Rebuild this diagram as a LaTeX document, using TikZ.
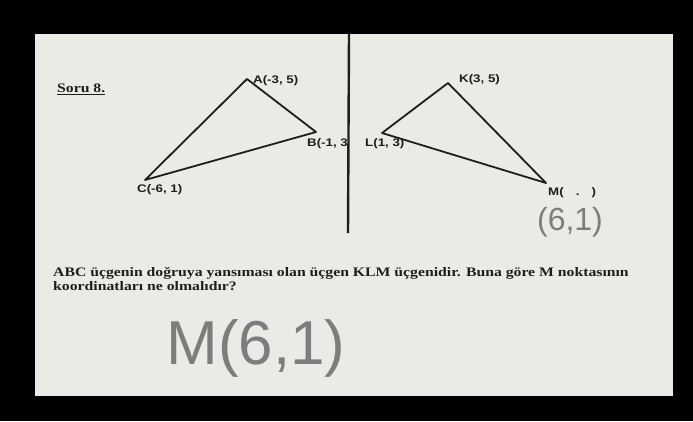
\documentclass[tikz,border=0pt]{standalone}
\usepackage{fontspec}
\setmainfont{Liberation Serif}
\newfontfamily\labelfont{Liberation Sans}
\usetikzlibrary{positioning}
\definecolor{paper}{RGB}{234,234,230}
\definecolor{ink}{RGB}{30,30,30}
\definecolor{pencil}{RGB}{125,125,125}
\newcommand{\wide}[1]{\scalebox{1.21}[1]{#1}}

\begin{document}
\begin{tikzpicture}[x=1pt, y=-1pt, every node/.style={inner sep=0pt},
  pt/.style={font=\labelfont\bfseries\fontsize{11}{11}\selectfont, text=ink},
  edge/.style={draw=ink, line width=1.8pt, line join=round},
  hand/.style={font=\labelfont, text=pencil}]
\useasboundingbox (0,0) rectangle (693,421);
\fill[black] (0,0) rectangle (693,421);
\fill[paper] (35,34) rectangle (673,396);

% header
\node[anchor=west, font=\bfseries\fontsize{13}{13}\selectfont, text=ink] (soru) at (57,89) {\wide{\underline{Soru 8.}}};

% ABC
\coordinate (A) at (247,79);
\coordinate (B) at (316,132);
\coordinate (C) at (145,180);
\draw[edge] (A) -- (B) -- (C) -- cycle;
\node[pt, anchor=west] (lA) at (253,81) {\wide{A(-3, 5)}};
\node[pt, anchor=west] (lB) at (307,144) {\wide{B(-1, 3}};
\node[pt, anchor=west] (lC) at (137,190) {\wide{C(-6, 1)}};

% KLM
\coordinate (K) at (448,83);
\coordinate (L) at (382,133);
\coordinate (M) at (546,183);
\draw[edge] (K) -- (L) -- (M) -- cycle;
\node[pt, anchor=west] (lK) at (459,80) {\wide{K(3, 5)}};
\node[pt, anchor=west] (lL) at (365,144) {\wide{L(1, 3)}};
\node[pt, anchor=west] (lM) at (548,193) {\wide{M(\hspace{10pt}.\hspace{10pt})}};

% mirror line
\coordinate (top) at (349,34);
\coordinate (bot) at (348,233);
\draw[ink, line width=2.4pt] (top) -- (bot);

% question
\node[anchor=north west, align=left, text=ink,
  font=\bfseries\fontsize{13}{14}\selectfont] (q) at (53,267)
  {\wide{ABC üçgenin doğruya yansıması olan üçgen KLM üçgenidir. Buna göre M noktasının}\\
   \wide{koordinatları ne olmalıdır?}};

% pencil answers
\node[hand, font=\labelfont\fontsize{32}{32}\selectfont] (ans1) at (570,222) {(6,1)};
\node[hand, font=\labelfont\fontsize{62}{62}\selectfont] (ans2) at (256,348) {M(6,1)};
\end{tikzpicture}
\end{document}
